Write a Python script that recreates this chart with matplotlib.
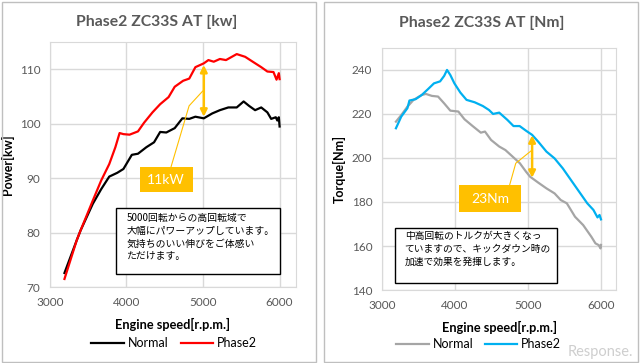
import matplotlib.pyplot as plt
from matplotlib.patches import Rectangle

plt.rcParams['font.family'] = ['Lato', 'Noto Sans CJK JP', 'DejaVu Sans']

# power [kW]
rpm_pw_normal = [3190, 3350, 3400, 3560, 3670, 3775, 3880, 3960, 4070, 4150, 4260, 4360,
                 4440, 4520, 4630, 4730, 4820, 4900, 5010, 5120, 5220, 5330, 5440, 5530,
                 5600, 5680, 5760, 5840, 5890, 5950, 5970, 5990, 6000]
pw_normal = [72.6, 78.6, 80.4, 85.3, 88.0, 90.3, 91.0, 91.7, 94.3, 94.5, 95.7, 96.6,
             98.5, 98.4, 99.2, 101.0, 100.9, 101.3, 101.0, 101.9, 102.5, 103.0, 103.0, 104.1,
             103.3, 102.5, 103.0, 102.1, 100.9, 101.2, 100.6, 101.2, 99.5]
rpm_pw_phase2 = [3190, 3350, 3400, 3560, 3670, 3775, 3855, 3910, 3960, 4040, 4150, 4230,
                 4340, 4440, 4550, 4630, 4740, 4820, 4900, 5010, 5070, 5140, 5220, 5300,
                 5440, 5550, 5660, 5760, 5840, 5920, 5960, 5990, 6000]
pw_phase2 = [71.5, 78.6, 80.4, 85.9, 89.6, 92.6, 95.7, 98.3, 98.1, 98.0, 98.6, 100.2,
             102.1, 103.6, 104.9, 106.8, 107.9, 108.3, 110.4, 111.1, 111.7, 111.4, 111.9, 111.7,
             112.8, 112.3, 111.3, 110.4, 109.6, 109.5, 108.1, 109.3, 108.2]

# torque [Nm]
rpm_tq_normal = [3190, 3263, 3347, 3431, 3543, 3600, 3683, 3767, 3851, 3935, 4045, 4129,
                 4241, 4353, 4410, 4493, 4605, 4690, 4776, 4888, 4972, 5028, 5140, 5252,
                 5364, 5448, 5532, 5644, 5756, 5868, 5924, 5969, 5994, 6000]
tq_normal = [216.5, 219.5, 223.3, 226.4, 228.6, 229.1, 228.2, 227.9, 224.8, 221.5, 221.1, 217.6,
             214.5, 211.5, 212.0, 208.2, 205.2, 203.6, 201.0, 197.6, 193.8, 191.5, 188.8, 186.2,
             183.9, 180.9, 179.4, 173.3, 169.5, 164.2, 161.2, 160.4, 158.9, 160.5]
rpm_tq_phase2 = [3190, 3263, 3347, 3375, 3459, 3543, 3627, 3711, 3795, 3851, 3890, 3935,
                 3991, 4073, 4157, 4269, 4381, 4465, 4521, 4605, 4717, 4801, 4885, 4972,
                 5056, 5140, 5252, 5364, 5476, 5588, 5700, 5812, 5896, 5952, 5980, 6000]
tq_phase2 = [213.5, 218.8, 222.6, 226.1, 226.7, 228.6, 231.2, 233.9, 234.8, 237.3, 240.0, 237.7,
             233.9, 229.7, 226.4, 225.3, 223.6, 221.8, 220.0, 220.6, 217.3, 214.5, 214.5, 212.4,
             210.5, 207.4, 202.9, 199.8, 195.3, 190.0, 184.7, 179.4, 176.4, 173.0, 174.1, 172.1]

xticks = [3000, 4000, 5000, 6000]
pw_ticks = [70, 80, 90, 100, 110]
tq_ticks = [140, 160, 180, 200, 220, 240]

# annotations
pw_gap = (5010, 101.3, 110.8)
pw_leader_x = [4578, 4818, 4995]
pw_leader_y = [91.9, 103.3, 106.0]
tq_gap = (5056, 191.0, 210.3)
tq_leader_x = [4748, 4832, 5056]
tq_leader_y = [187.7, 197.6, 203.6]

note_pw = '5000回転からの高回転域で\n大幅にパワーアップしています。\n気持ちのいい伸びをご体感い\nただけます。'
note_tq = '中高回転のトルクが大きくなっ\nていますので、キックダウン時の\n加速で効果を発揮します。'

ORANGE = '#FFC000'
GRID = '#D9D9D9'
TXT = '#595959'

fig = plt.figure(figsize=(6.4, 3.63), dpi=100)
fig.patches.append(Rectangle((0.003, 0.004), 0.49, 0.99, transform=fig.transFigure,
                             fill=False, edgecolor='#BFBFBF', lw=1))
fig.patches.append(Rectangle((0.507, 0.004), 0.49, 0.99, transform=fig.transFigure,
                             fill=False, edgecolor='#BFBFBF', lw=1))

ax1 = fig.add_axes([0.078, 0.209, 0.384, 0.675])
ax2 = fig.add_axes([0.597, 0.201, 0.366, 0.667])


def style(ax, yticks, ylim):
    ax.set_xlim(3000, 6210)
    ax.set_ylim(*ylim)
    ax.set_xticks(xticks)
    ax.set_yticks(yticks)
    ax.grid(True, color=GRID, lw=1)
    ax.set_axisbelow(True)
    for s in ax.spines.values():
        s.set_color(GRID)
    ax.tick_params(length=0, labelsize=8.5, labelcolor=TXT, pad=7)
    ax.set_xlabel('Engine speed[r.p.m.]', fontsize=9.2, fontweight='bold', labelpad=7)


style(ax1, pw_ticks, (70, 115))
style(ax2, tq_ticks, (140, 250))

l1, = ax1.plot(rpm_pw_normal, pw_normal, color='black', lw=1.6)
l2, = ax1.plot(rpm_pw_phase2, pw_phase2, color='#FF0000', lw=1.6)
l3, = ax2.plot(rpm_tq_normal, tq_normal, color='#A5A5A5', lw=1.6)
l4, = ax2.plot(rpm_tq_phase2, tq_phase2, color='#00B0F0', lw=1.6)

ax1.set_ylabel('Power[kw]', fontsize=9, fontweight='bold', labelpad=4)
ax2.set_ylabel('Torque[Nm]', fontsize=9, fontweight='bold', labelpad=4)

fig.text(0.244, 0.94, 'Phase2 ZC33S AT [kw]', ha='center', va='center',
         fontsize=11.3, fontweight='bold', color=TXT)
fig.text(0.752, 0.937, 'Phase2 ZC33S AT [Nm]', ha='center', va='center',
         fontsize=11.3, fontweight='bold', color=TXT)

# gap arrows and leaders
for ax, gap, lx, ly in [(ax1, pw_gap, pw_leader_x, pw_leader_y),
                        (ax2, tq_gap, tq_leader_x, tq_leader_y)]:
    ax.annotate('', xy=(gap[0], gap[2]), xytext=(gap[0], gap[1]),
                arrowprops=dict(arrowstyle='<|-|>', color=ORANGE, lw=1.8,
                                mutation_scale=10, shrinkA=0, shrinkB=0))
    ax.plot(lx, ly, color=ORANGE, lw=0.8)

# label boxes
ax1.add_patch(Rectangle((4171, 87.4), 697, 4.6, facecolor=ORANGE, edgecolor='none', zorder=5))
ax1.text(4519, 89.7, '11kW', color='white', fontsize=10, ha='center', va='center', zorder=6)
ax2.add_patch(Rectangle((4055, 175.4), 849, 12.3, facecolor=ORANGE, edgecolor='none', zorder=5))
ax2.text(4480, 181.5, '23Nm', color='white', fontsize=10, ha='center', va='center', zorder=6)

# note boxes
ax1.add_patch(Rectangle((3868, 72.4), 2132, 12.1, facecolor='white', edgecolor='black',
                        lw=1, zorder=5))
ax1.text(4000, 83.6, note_pw, fontsize=7.1, va='top', ha='left', linespacing=1.35,
         family=['Noto Sans CJK JP', 'DejaVu Sans'], zorder=6)
ax2.add_patch(Rectangle((3178, 143.2), 2219, 25.2, facecolor='white', edgecolor='black',
                        lw=1, zorder=5))
ax2.text(3310, 166.6, note_tq, fontsize=7.0, va='top', ha='left', linespacing=1.35,
         family=['Noto Sans CJK JP', 'DejaVu Sans'], zorder=6)

fig.legend([l1, l2], ['Normal', 'Phase2'], loc='center', bbox_to_anchor=(0.272, 0.055),
           ncol=2, frameon=False, fontsize=9, handlelength=2.6, columnspacing=1.0,
           handletextpad=0.3)
fig.legend([l3, l4], ['Normal', 'Phase2'], loc='center', bbox_to_anchor=(0.748, 0.052),
           ncol=2, frameon=False, fontsize=9, handlelength=2.6, columnspacing=0.9,
           handletextpad=0.3)

fig.text(0.99, 0.03, 'Response.', ha='right', va='center', fontsize=10.5,
         color='#9E9E9E', alpha=0.5)

fig.savefig('out.png', dpi=100)
